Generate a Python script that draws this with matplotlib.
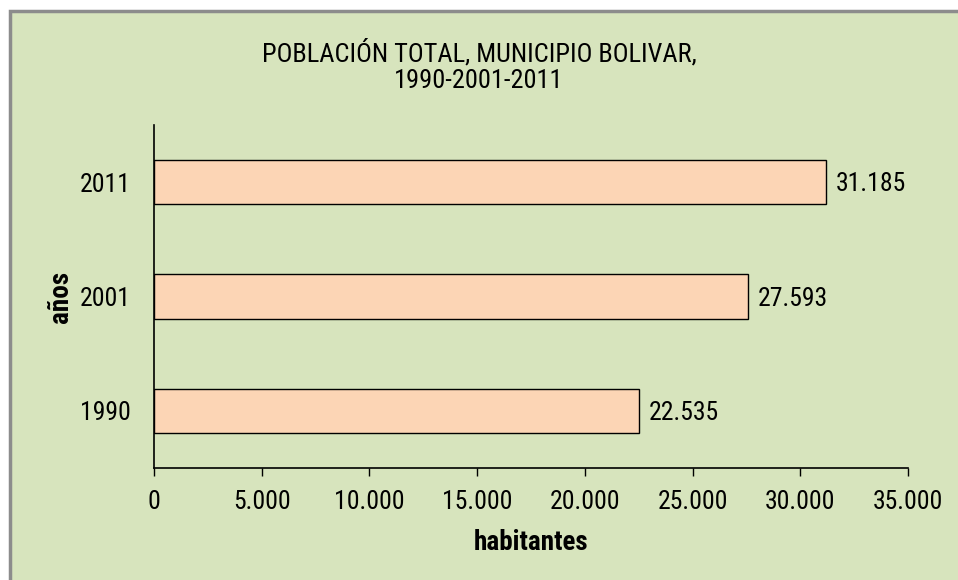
import matplotlib
matplotlib.use("Agg")
import logging
import matplotlib.pyplot as plt
from matplotlib.patches import Rectangle
from matplotlib.ticker import FuncFormatter

logging.getLogger("matplotlib.font_manager").setLevel(logging.ERROR)

# datos
anios = ["1990", "2001", "2011"]
poblacion = [22535, 27593, 31185]
x_ticks = [0, 5000, 10000, 15000, 20000, 25000, 30000, 35000]

plt.rcParams['font.family'] = ['Liberation Sans Narrow', 'Arial Narrow', 'Roboto Condensed',
                               'Archivo Narrow', 'DejaVu Sans']

def miles(v, pos=None):
    return f"{int(v):,}".replace(",", ".")

fig = plt.figure(figsize=(9.58, 5.8), dpi=100)
fig.patch.set_facecolor("white")

# fondo verde con borde gris (arriba e izquierda)
fondo = Rectangle((10/958, -0.01), 1.0, (580-11)/580 + 0.01, transform=fig.transFigure,
                  facecolor="#D7E4BD", edgecolor="#8C8C8C", linewidth=2.5, zorder=-10)
fig.patches.append(fondo)

ax = fig.add_axes([154/958, 1-468/580, (908-154)/958, (468-125)/580])
ax.set_facecolor("none")

ax.barh(range(len(anios)), poblacion, height=0.39, color="#FCD5B5",
        edgecolor="black", linewidth=1.0)

for i, v in enumerate(poblacion):
    ax.text(v + 450, i - 0.02, miles(v), va="center", ha="left", fontsize=18.5)

ax.set_xlim(0, 35000)
ax.set_ylim(-0.5, 2.5)
ax.set_xticks(x_ticks)
ax.xaxis.set_major_formatter(FuncFormatter(miles))
ax.set_yticks(range(len(anios)))
ax.set_yticklabels(anios)

ax.tick_params(axis="x", direction="out", length=6, width=1, labelsize=18.5, pad=10)
ax.tick_params(axis="y", length=0, labelsize=18.5, pad=17)

for s in ["top", "right"]:
    ax.spines[s].set_visible(False)
for s in ["left", "bottom"]:
    ax.spines[s].set_color("black")
    ax.spines[s].set_linewidth(1.2)

ax.set_xlabel("habitantes", fontsize=19.5, fontweight="bold", labelpad=11)
ax.set_ylabel("años", fontsize=19.5, fontweight="bold", labelpad=4)

fig.text(0.5, 1-66/580, "POBLACIÓN TOTAL, MUNICIPIO BOLIVAR,\n1990-2001-2011",
         ha="center", va="center", fontsize=19, linespacing=1.15)

fig.savefig("out.png", dpi=100)
